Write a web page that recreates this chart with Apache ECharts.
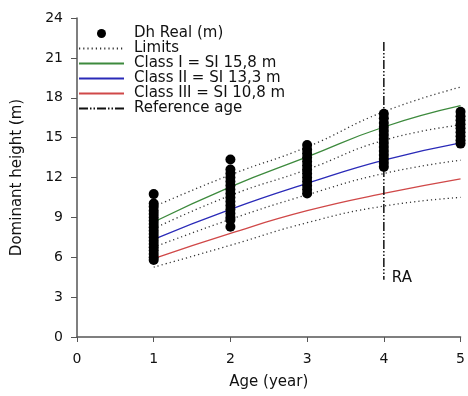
<!DOCTYPE html>
<html>
<head>
<meta charset="utf-8">
<script src="https://cdn.jsdelivr.net/npm/echarts@6/dist/echarts.min.js"></script>
<style>
  html, body { margin: 0; padding: 0; background: #fff; }
  #chart { width: 468px; height: 396px; }
</style>
</head>
<body>
<div id="chart"></div>
<script>
// ages on the x axis
var ages = [1, 2, 3, 4, 5];
// site index curves
var classI = [8.65, 11.3, 13.55, 15.8, 17.4];
var classII = [7.35, 9.6, 11.55, 13.3, 14.6];
var classIII = [5.9, 7.8, 9.5, 10.8, 11.9];
// limits between classes (dotted)
var limitTop = [9.8, 12.2, 14.3, 16.95, 18.8];
var limitI_II = [8.15, 10.65, 12.6, 14.8, 15.95];
var limitII_III = [6.75, 8.85, 10.7, 12.3, 13.3];
var limitBottom = [5.25, 6.9, 8.6, 9.85, 10.5];
// measured dominant heights per age
var dh1 = [10.75, 10.05, 9.8, 9.5, 9.25, 9.0, 8.75, 8.5, 8.25, 8.0, 7.75, 7.5, 7.25, 7.0, 6.75, 6.5, 6.25, 6.0, 5.8];
var dh2 = [13.35, 12.6, 12.3, 12.0, 11.7, 11.4, 11.1, 10.8, 10.5, 10.2, 9.9, 9.6, 9.3, 9.0, 8.8, 8.3];
var dh3 = [14.45, 14.1, 13.8, 13.5, 13.2, 12.9, 12.6, 12.3, 12.0, 11.7, 11.4, 11.1, 10.8];
var dh4 = [16.8, 16.45, 16.1, 15.8, 15.5, 15.2, 14.9, 14.6, 14.3, 14.0, 13.7, 13.4, 13.1, 12.8];
var dh5 = [16.95, 16.6, 16.3, 16.0, 15.7, 15.4, 15.1, 14.8, 14.55];
// reference age line
var refAge = 4;
var refRange = [22.2, 4.3];

var font = 'DejaVu Sans, Arial, sans-serif';

function pairs(ys) {
    return ages.map(function (a, i) { return [a, ys[i]]; });
}

var scatterData = [];
[dh1, dh2, dh3, dh4, dh5].forEach(function (col, i) {
    col.forEach(function (v) { scatterData.push([ages[i], v]); });
});

function limitSeries(ys) {
    return {
        name: 'Limits',
        type: 'line',
        data: pairs(ys),
        smooth: true,
        symbol: 'none',
        lineStyle: { color: '#333', width: 1.3, type: [1.2, 3] }
    };
}

function classSeries(name, ys, color) {
    return {
        name: name,
        type: 'line',
        data: pairs(ys),
        smooth: true,
        symbol: 'none',
        lineStyle: { color: color, width: 1.3 }
    };
}

// legend entries for lines: hide the marker, keep the line
function lineItem(name) {
    return { name: name, itemStyle: { color: 'rgba(0,0,0,0)', borderWidth: 0, opacity: 0 } };
}

var myChart = echarts.init(document.getElementById('chart'));
var option = {
    animation: false,
    textStyle: { fontFamily: font },
    grid: { left: 77, right: 2, top: 18, bottom: 59 },
    legend: {
        orient: 'vertical',
        left: 73,
        top: 21,
        itemWidth: 45,
        itemHeight: 9,
        itemGap: 0,
        textStyle: { fontSize: 15, color: '#111', lineHeight: 14, padding: [0, 0, 0, 5] },
        data: [
            { name: 'Dh Real (m)', icon: 'circle', itemStyle: { color: '#000', opacity: 1 } },
            lineItem('Limits'),
            lineItem('Class I = SI 15,8 m'),
            lineItem('Class II = SI 13,3 m'),
            lineItem('Class III = SI 10,8 m'),
            lineItem('Reference age')
        ]
    },
    xAxis: {
        type: 'value',
        min: 0,
        max: 5,
        interval: 1,
        name: 'Age (year)',
        nameLocation: 'middle',
        nameGap: 38,
        nameTextStyle: { fontSize: 15, color: '#111' },
        axisLine: { lineStyle: { color: '#555', width: 1.5 } },
        axisTick: { length: 5, lineStyle: { color: '#555' } },
        axisLabel: { fontSize: 14, color: '#111', margin: 15 },
        splitLine: { show: false }
    },
    yAxis: {
        type: 'value',
        min: 0,
        max: 24,
        interval: 3,
        name: 'Dominant height (m)',
        nameLocation: 'middle',
        nameGap: 52,
        nameTextStyle: { fontSize: 15, color: '#111' },
        axisLine: { show: true, lineStyle: { color: '#555', width: 1.5 } },
        axisTick: { show: true, length: 6, lineStyle: { color: '#555' } },
        axisLabel: { fontSize: 14, color: '#111', margin: 14 },
        splitLine: { show: false }
    },
    series: [
        limitSeries(limitTop),
        limitSeries(limitI_II),
        limitSeries(limitII_III),
        limitSeries(limitBottom),
        classSeries('Class I = SI 15,8 m', classI, '#3d8a3d'),
        classSeries('Class II = SI 13,3 m', classII, '#2a2ab8'),
        classSeries('Class III = SI 10,8 m', classIII, '#d04848'),
        {
            name: 'Reference age',
            type: 'line',
            data: [[refAge, refRange[0]], [refAge, refRange[1]]],
            symbol: 'none',
            lineStyle: { color: '#111', width: 1.5, type: [9, 2, 1.5, 2, 1.5, 2] },
            endLabel: {
                show: true,
                fontSize: 15,
                color: '#111',
                distance: 8,
                offset: [0, -2],
                formatter: 'RA'
            }
        },
        {
            name: 'Dh Real (m)',
            type: 'scatter',
            data: scatterData,
            symbolSize: 10,
            itemStyle: { color: '#000', opacity: 1 },
            z: 5
        }
    ]
};
option && myChart.setOption(option);
</script>
</body>
</html>
